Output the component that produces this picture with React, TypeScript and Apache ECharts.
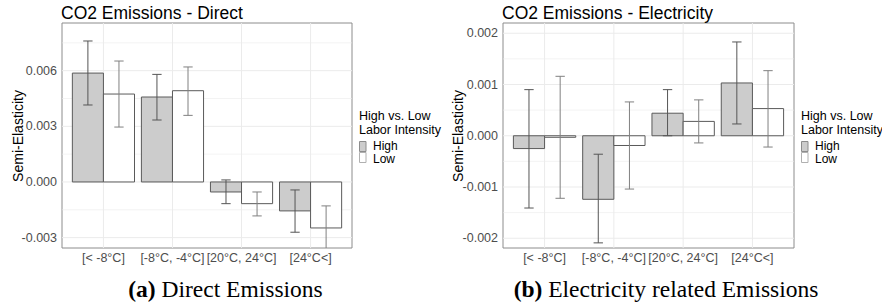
import React, { useEffect, useRef } from "react";
import * as echarts from "echarts";

const categories = ["[< -8°C]", "[-8°C, -4°C]", "[20°C, 24°C]", "[24°C<]"];

const directHigh = [0.00587, 0.00458, -0.00054, -0.00156];
const directHighLo = [0.00415, 0.00334, -0.00117, -0.00271];
const directHighHi = [0.0076, 0.0058, 0.00011, -0.00043];
const directLow = [0.00474, 0.00492, -0.00117, -0.00248];
const directLowLo = [0.00296, 0.00359, -0.00183, -0.00367];
const directLowHi = [0.00652, 0.0062, -0.00054, -0.00129];

const elecHigh = [-0.00025, -0.00124, 0.00044, 0.00103];
const elecHighLo = [-0.00141, -0.00209, 0.0, 0.00023];
const elecHighHi = [0.0009, -0.00036, 0.0009, 0.00183];
const elecLow = [-0.00003, -0.00019, 0.00028, 0.00053];
const elecLowLo = [-0.00122, -0.00104, -0.00014, -0.00022];
const elecLowHi = [0.00116, 0.00066, 0.0007, 0.00127];

const directTicks = [-0.003, 0, 0.003, 0.006];
const directMinor = [-0.0015, 0.0015, 0.0045, 0.0075];
const elecTicks = [-0.002, -0.001, 0, 0.001, 0.002];
const elecMinor = [-0.0015, -0.0005, 0.0005, 0.0015];

const XMIN = -0.6;
const XMAX = 3.6;
const BW = 0.45;
const EW = 0.135;
const SANS = "Liberation Sans, Arial, sans-serif";
const SERIF = "Liberation Serif, Times New Roman, serif";

const HIGH_FILL = "#cccccc";
const LOW_FILL = "#ffffff";
const BORDER = "#5a5a5a";

function barSeries(name: string, vals: number[], offset: number, fill: string, idx: number) {
  return {
    type: "custom",
    name,
    xAxisIndex: idx,
    yAxisIndex: idx,
    clip: true,
    z: 3,
    data: vals.map((v, i) => [i, v]),
    renderItem: (_p: any, api: any) => {
      const x = api.value(0);
      const v = api.value(1);
      const p0 = api.coord([x + offset - BW / 2, 0]);
      const p1 = api.coord([x + offset + BW / 2, v]);
      return {
        type: "rect",
        shape: {
          x: p0[0],
          y: Math.min(p0[1], p1[1]),
          width: p1[0] - p0[0],
          height: Math.abs(p1[1] - p0[1]),
        },
        style: { fill, stroke: BORDER, lineWidth: 1 },
      };
    },
  };
}

function errSeries(lo: number[], hi: number[], offset: number, color: string, idx: number) {
  return {
    type: "custom",
    xAxisIndex: idx,
    yAxisIndex: idx,
    clip: true,
    z: 4,
    data: lo.map((l, i) => [i, l, hi[i]]),
    renderItem: (_p: any, api: any) => {
      const x = api.value(0) + offset;
      const a = api.coord([x, api.value(1)]);
      const b = api.coord([x, api.value(2)]);
      const aL = api.coord([x - EW / 2, api.value(1)]);
      const aR = api.coord([x + EW / 2, api.value(1)]);
      const bL = api.coord([x - EW / 2, api.value(2)]);
      const bR = api.coord([x + EW / 2, api.value(2)]);
      const st = { stroke: color, lineWidth: 1 };
      return {
        type: "group",
        children: [
          { type: "line", shape: { x1: a[0], y1: a[1], x2: b[0], y2: b[1] }, style: st },
          { type: "line", shape: { x1: aL[0], y1: aL[1], x2: aR[0], y2: aR[1] }, style: st },
          { type: "line", shape: { x1: bL[0], y1: bL[1], x2: bR[0], y2: bR[1] }, style: st },
        ],
      };
    },
  };
}

function hGridSeries(vals: number[], idx: number, width: number) {
  return {
    type: "custom",
    xAxisIndex: idx,
    yAxisIndex: idx,
    silent: true,
    z: 1,
    data: vals.map((v) => [0, v]),
    renderItem: (_p: any, api: any) => {
      const a = api.coord([XMIN, api.value(1)]);
      const b = api.coord([XMAX, api.value(1)]);
      return {
        type: "line",
        shape: { x1: a[0], y1: a[1], x2: b[0], y2: b[1] },
        style: { stroke: "#ebebeb", lineWidth: width },
      };
    },
  };
}

function vGridSeries(idx: number, ymin: number, ymax: number) {
  return {
    type: "custom",
    xAxisIndex: idx,
    yAxisIndex: idx,
    silent: true,
    z: 1,
    data: categories.map((_, i) => [i, 0]),
    renderItem: (_p: any, api: any) => {
      const a = api.coord([api.value(0), ymin]);
      const b = api.coord([api.value(0), ymax]);
      return {
        type: "line",
        shape: { x1: a[0], y1: a[1], x2: b[0], y2: b[1] },
        style: { stroke: "#ebebeb", lineWidth: 1 },
      };
    },
  };
}

function xAxisCfg(idx: number) {
  return {
    type: "value",
    gridIndex: idx,
    min: XMIN,
    max: XMAX,
    axisLine: { show: false },
    axisTick: { show: false },
    splitLine: { show: false },
    axisLabel: {
      customValues: [0, 1, 2, 3],
      formatter: (v: number) => categories[Math.round(v)] ?? "",
      color: "#4d4d4d",
      fontSize: 12.5,
      fontFamily: SANS,
      margin: 3,
    },
  };
}

function yAxisCfg(idx: number, min: number, max: number, ticks: number[]) {
  return {
    type: "value",
    gridIndex: idx,
    min,
    max,
    axisLine: { show: false },
    axisTick: { show: false },
    splitLine: { show: false },
    axisLabel: {
      customValues: ticks,
      formatter: (v: number) => v.toFixed(3),
      color: "#4d4d4d",
      fontSize: 12.5,
      fontFamily: SANS,
      margin: 5,
    },
  };
}

function legendGraphics(x: number) {
  const t = { fontSize: 12, fontFamily: SANS, fill: "#000" };
  return [
    { type: "text", x, y: 116, style: { ...t, fontSize: 12.5, text: "High vs. Low", verticalAlign: "middle" } },
    { type: "text", x, y: 129.5, style: { ...t, fontSize: 12.5, text: "Labor Intensity", verticalAlign: "middle" } },
    { type: "rect", shape: { x: x + 0.5, y: 141.5, width: 6.5, height: 10 }, style: { fill: HIGH_FILL, stroke: "#8c8c8c", lineWidth: 1 } },
    { type: "rect", shape: { x: x + 0.5, y: 152.5, width: 6.5, height: 10 }, style: { fill: LOW_FILL, stroke: "#b0b0b0", lineWidth: 1 } },
    { type: "text", x: x + 14, y: 146.4, style: { ...t, text: "High", verticalAlign: "middle" } },
    { type: "text", x: x + 14, y: 158.8, style: { ...t, text: "Low", verticalAlign: "middle" } },
  ];
}

function caption(x: number, label: string, rest: string) {
  return {
    type: "text", x, y: 288.5,
    style: {
      text: `{b|${label}} ${rest}`, fontSize: 23.5, fontFamily: SERIF, fill: "#000",
      align: "center", verticalAlign: "middle",
      rich: { b: { fontWeight: "bold", fontSize: 23.5, fontFamily: SERIF, fill: "#000" } },
    },
  };
}

export default function App() {
  const ref = useRef<HTMLDivElement>(null);
  useEffect(() => {
    if (!ref.current) return;
    const chart = echarts.init(ref.current, undefined, { renderer: "svg" });
    const DMIN = -0.00356, DMAX = 0.00857;
    const EMIN = -0.00219, EMAX = 0.0022;
    chart.setOption({
      animation: false,
      backgroundColor: "#ffffff",
      grid: [
        { left: 62, top: 23, width: 290, height: 225, show: true, borderColor: "#8c8c8c", borderWidth: 1, containLabel: false },
        { left: 503, top: 23, width: 291, height: 225, show: true, borderColor: "#8c8c8c", borderWidth: 1, containLabel: false },
      ],
      xAxis: [xAxisCfg(0), xAxisCfg(1)],
      yAxis: [yAxisCfg(0, DMIN, DMAX, directTicks), yAxisCfg(1, EMIN, EMAX, elecTicks)],
      series: [
        hGridSeries(directMinor, 0, 0.6),
        hGridSeries(directTicks, 0, 1),
        vGridSeries(0, DMIN, DMAX),
        barSeries("High", directHigh, -0.225, HIGH_FILL, 0),
        barSeries("Low", directLow, 0.225, LOW_FILL, 0),
        errSeries(directHighLo, directHighHi, -0.225, "#555555", 0),
        errSeries(directLowLo, directLowHi, 0.225, "#808080", 0),
        hGridSeries(elecMinor, 1, 0.6),
        hGridSeries(elecTicks, 1, 1),
        vGridSeries(1, EMIN, EMAX),
        barSeries("High", elecHigh, -0.225, HIGH_FILL, 1),
        barSeries("Low", elecLow, 0.225, LOW_FILL, 1),
        errSeries(elecHighLo, elecHighHi, -0.225, "#555555", 1),
        errSeries(elecLowLo, elecLowHi, 0.225, "#808080", 1),
      ],
      graphic: [
        { type: "text", x: 61, y: 12.5, style: { text: "CO2 Emissions - Direct", fontSize: 17.5, fontFamily: SANS, fill: "#000", verticalAlign: "middle" } },
        { type: "text", x: 502, y: 12.5, style: { text: "CO2 Emissions - Electricity", fontSize: 17.5, fontFamily: SANS, fill: "#000", verticalAlign: "middle" } },
        { type: "text", x: 18, y: 136, rotation: Math.PI / 2, style: { text: "Semi-Elasticity", fontSize: 14, fontFamily: SANS, fill: "#000", align: "center", verticalAlign: "middle" } },
        { type: "text", x: 458, y: 136, rotation: Math.PI / 2, style: { text: "Semi-Elasticity", fontSize: 14, fontFamily: SANS, fill: "#000", align: "center", verticalAlign: "middle" } },
        ...legendGraphics(359),
        ...legendGraphics(801),
        caption(225.5, "(a)", "Direct Emissions"),
        caption(666, "(b)", "Electricity related Emissions"),
      ],
    });
    return () => chart.dispose();
  }, []);
  return <div ref={ref} style={{ position: "fixed", left: 0, top: 0, width: 882, height: 302 }} />;
}
